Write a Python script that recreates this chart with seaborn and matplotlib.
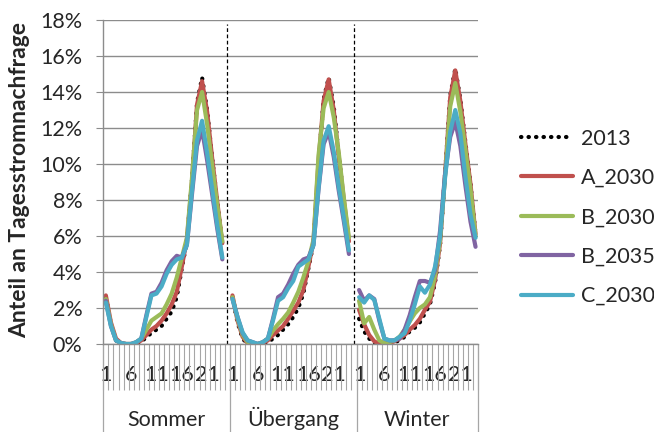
import numpy as np
import pandas as pd
import matplotlib
matplotlib.use("Agg")
import matplotlib.pyplot as plt
import matplotlib.transforms as mtransforms
from matplotlib.lines import Line2D
import seaborn as sns

# ── Data (share of daily electricity demand per hour, %) ──────────────────
seasons = ["Sommer", "Übergang", "Winter"]
series = ["2013", "A_2030", "B_2030", "B_2035", "C_2030"]
hours = list(range(1, 25))
hour_labels = ["1", "6", "11", "16", "21"]

sommer_2013 = [2.6, 1.1, 0.2, 0.0, 0.0, 0.0, 0.0, 0.1, 0.4, 0.6, 0.8, 1.0, 1.4, 1.8, 2.6, 4.2, 5.7, 9.1, 13.4, 14.8, 13.0, 10.3, 7.9, 5.5]
sommer_a30 = [2.7, 1.2, 0.3, 0.05, 0.0, 0.0, 0.05, 0.2, 0.5, 0.8, 1.0, 1.3, 1.7, 2.2, 2.9, 4.3, 5.8, 9.0, 13.3, 14.6, 12.9, 10.3, 7.9, 5.6]
sommer_b30 = [2.5, 1.1, 0.2, 0.05, 0.0, 0.0, 0.1, 0.3, 0.8, 1.3, 1.5, 1.7, 2.2, 2.8, 3.7, 4.8, 5.9, 9.2, 13.0, 14.0, 12.2, 9.9, 7.7, 5.7]
sommer_b35 = [2.4, 1.0, 0.2, 0.05, 0.0, 0.0, 0.1, 0.3, 1.6, 2.8, 2.9, 3.4, 4.1, 4.6, 4.9, 4.8, 5.5, 8.3, 11.0, 11.9, 10.2, 8.3, 6.4, 4.7]
sommer_c30 = [2.3, 1.0, 0.2, 0.05, 0.0, 0.0, 0.1, 0.3, 1.5, 2.7, 2.8, 3.2, 3.9, 4.4, 4.7, 4.8, 5.5, 8.5, 11.3, 12.4, 10.6, 8.6, 6.6, 4.8]

uebergang_2013 = [2.6, 1.2, 0.3, 0.0, 0.0, 0.0, 0.0, 0.1, 0.3, 0.5, 0.8, 1.1, 1.5, 2.0, 2.8, 4.2, 5.6, 10.0, 13.6, 14.8, 13.2, 10.5, 7.9, 5.6]
uebergang_a30 = [2.7, 1.3, 0.4, 0.05, 0.0, 0.0, 0.05, 0.2, 0.5, 0.75, 1.0, 1.4, 1.85, 2.3, 3.0, 4.3, 5.7, 10.2, 13.5, 14.7, 13.0, 10.4, 8.0, 5.7]
uebergang_b30 = [2.6, 1.4, 0.5, 0.1, 0.0, 0.0, 0.1, 0.3, 0.75, 1.1, 1.4, 1.75, 2.3, 2.9, 3.7, 4.6, 5.8, 10.5, 13.1, 14.0, 12.6, 10.6, 8.1, 5.9]
uebergang_b35 = [2.5, 1.5, 0.6, 0.2, 0.1, 0.0, 0.1, 0.3, 1.4, 2.6, 2.8, 3.3, 3.9, 4.4, 4.7, 4.8, 5.5, 8.6, 11.1, 11.8, 10.4, 8.5, 6.8, 5.0]
uebergang_c30 = [2.5, 1.5, 0.65, 0.2, 0.1, 0.0, 0.1, 0.3, 1.3, 2.4, 2.6, 3.1, 3.5, 4.3, 4.5, 4.7, 5.5, 8.7, 11.3, 12.1, 10.7, 8.7, 7.0, 5.2]

winter_2013 = [1.4, 0.7, 0.3, 0.05, 0.0, 0.0, 0.0, 0.1, 0.2, 0.4, 0.7, 0.9, 1.2, 1.7, 2.2, 3.4, 5.5, 9.5, 13.8, 15.3, 13.6, 11.2, 8.9, 6.1]
winter_a30 = [1.9, 1.1, 0.5, 0.15, 0.0, 0.0, 0.05, 0.15, 0.3, 0.5, 0.8, 1.05, 1.4, 1.9, 2.35, 3.55, 5.6, 9.5, 13.7, 15.2, 13.5, 11.1, 8.9, 6.1]
winter_b30 = [2.4, 1.15, 1.5, 0.8, 0.2, 0.05, 0.1, 0.2, 0.4, 0.8, 1.25, 1.7, 2.0, 2.2, 2.6, 3.8, 5.8, 9.4, 13.2, 14.5, 12.9, 10.8, 8.6, 6.0]
winter_b35 = [3.0, 2.4, 2.7, 2.5, 1.3, 0.3, 0.2, 0.2, 0.3, 0.8, 1.6, 2.6, 3.5, 3.5, 3.4, 4.1, 6.3, 9.5, 11.5, 12.35, 11.0, 8.8, 6.8, 5.4]
winter_c30 = [2.6, 2.3, 2.7, 2.45, 1.4, 0.3, 0.2, 0.2, 0.4, 0.6, 1.3, 2.2, 3.2, 2.85, 3.3, 4.3, 6.0, 9.3, 11.8, 13.0, 11.7, 9.3, 7.2, 5.9]

values = {
    "Sommer": [sommer_2013, sommer_a30, sommer_b30, sommer_b35, sommer_c30],
    "Übergang": [uebergang_2013, uebergang_a30, uebergang_b30, uebergang_b35, uebergang_c30],
    "Winter": [winter_2013, winter_a30, winter_b30, winter_b35, winter_c30],
}

colors = {"2013": "black", "A_2030": "#C0504D", "B_2030": "#9BBB59",
          "B_2035": "#8064A2", "C_2030": "#4BACC6"}
dashes = {"2013": (0.1, 1.7), "A_2030": "", "B_2030": "", "B_2035": "", "C_2030": ""}

# one empty category between seasons (Excel chart had a blank column)
SLOT = 25

rows = []
for si, season in enumerate(seasons):
    for name, vals in zip(series, values[season]):
        for h, v in zip(hours, vals):
            rows.append({"x": si * SLOT + h - 1, "val": v, "series": name, "season": season})
df = pd.DataFrame(rows)

# ── Plot ──────────────────────────────────────────────────────────────────
sns.set_style("white")
plt.rcParams["font.family"] = ["Lato", "DejaVu Sans"]
FS = 15.5
GRID = "#8C8C8C"
TICK = "#A6A6A6"

fig, ax = plt.subplots(figsize=(6.54, 4.32), dpi=100)
fig.subplots_adjust(left=0.158, right=0.731, bottom=0.2037, top=0.9537)

sns.lineplot(
    data=df, x="x", y="val", hue="series", style="series", units="season",
    estimator=None, hue_order=series, style_order=series, palette=colors,
    dashes=dashes, linewidth=3, legend=False, ax=ax,
    solid_capstyle="round", dash_capstyle="round", solid_joinstyle="round",
)

ax.set_xlim(-0.5, 2 * SLOT + 23.5)
ax.set_ylim(0, 18)
ax.set_yticks(np.arange(0, 19, 2))
ax.set_yticklabels([f"{v}%" for v in range(0, 19, 2)], fontsize=FS)
ax.yaxis.grid(True, color=GRID, linewidth=1)
ax.set_axisbelow(True)
ax.tick_params(axis="y", length=5, color=GRID, pad=10, left=True)

major = [si * SLOT + h - 1 for si in range(3) for h in (1, 6, 11, 16, 21)]
ax.set_xticks(major)
ax.set_xticklabels(hour_labels * 3, fontsize=FS)
ax.set_xticks(np.arange(-0.5, 2 * SLOT + 24, 1), minor=True)
ax.tick_params(axis="x", which="major", length=0, pad=15)
ax.tick_params(axis="x", which="minor", length=33, color=TICK, width=0.8, bottom=True)

ax.set_xlabel("")
ax.set_ylabel("")
for side in ("top", "right"):
    ax.spines[side].set_visible(False)
for side in ("left", "bottom"):
    ax.spines[side].set_color(GRID)
    ax.spines[side].set_linewidth(1)

# dashed season separators inside the plot
for sep in (SLOT - 1, 2 * SLOT - 1):
    ax.plot([sep, sep], [0, 17.8], color="black", linestyle=(0, (3, 2)), linewidth=0.9)

# second category level: season names and dividers
trans = mtransforms.blended_transform_factory(ax.transData, ax.transAxes)
for b in (-0.5, SLOT - 0.5, 2 * SLOT - 0.5, 2 * SLOT + 23.5):
    ax.plot([b, b], [0, -0.275], color=TICK, linewidth=0.9, transform=trans, clip_on=False)
centers = [(SLOT - 1) / 2, SLOT + (SLOT - 1) / 2, 2 * SLOT + 11.5]
for c, season in zip(centers, seasons):
    ax.text(c, -0.252, season, transform=trans, ha="center", va="baseline", fontsize=FS)

fig.text(20 / 654, 1 - 180 / 432, "Anteil an Tagesstromnachfrage", rotation=90,
         ha="center", va="center", fontsize=16.5, fontweight="bold")

handles = [Line2D([], [], color=colors[s], linewidth=3,
                  linestyle=(0, dashes[s]) if dashes[s] else "-",
                  dash_capstyle="round", solid_capstyle="round") for s in series]
fig.legend(handles, series, loc="upper left", bbox_to_anchor=(512 / 654, 1 - 120 / 432),
           frameon=False, fontsize=FS, handlelength=2.45, handletextpad=0.35,
           labelspacing=0.9, borderaxespad=0)

fig.savefig("out.png", dpi=100)
